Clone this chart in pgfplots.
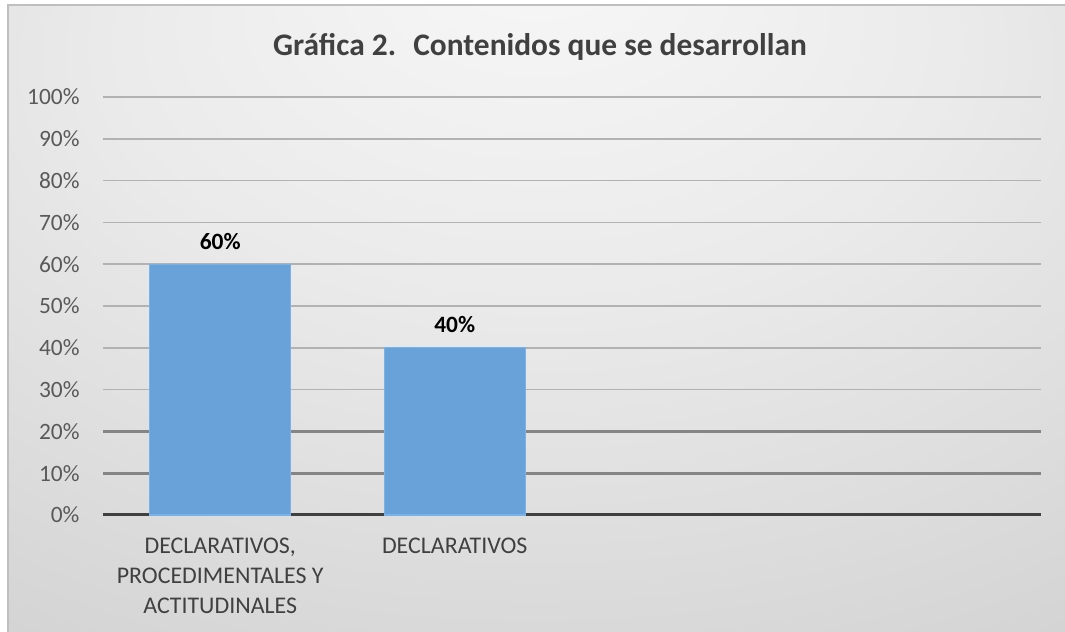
\documentclass[border=0pt]{standalone}
\usepackage{pgfplots}
\pgfplotsset{compat=1.18}
\usepackage{fontspec}
\setmainfont{Carlito}
\definecolor{barblue}{RGB}{104,162,216}
\definecolor{baredge}{RGB}{120,178,232}
\definecolor{txtgray}{RGB}{89,89,89}
\definecolor{titlegray}{RGB}{64,64,64}
\pgfdeclareradialshading{bgshade}{\pgfpoint{0bp}{30bp}}{%
  color(0bp)=(white!97!black);
  color(20bp)=(white!92!black);
  color(45bp)=(white!83!black);
  color(75bp)=(white!76!black)}
\pgfplotstableread{
x y
0 60
1 40
}\datatable
\begin{document}
\begin{tikzpicture}[x=1bp,y=1bp]
\useasboundingbox (0,0) rectangle (1065,632);
\fill[white] (0,0) rectangle (1065,632);
\shade[shading=bgshade] (8,0) rectangle (1065,627);
\draw[black!25, line width=1.2bp] (8,-2) -- (8,627) -- (1067,627);
\node[font=\fontsize{31.5}{38}\selectfont\bfseries, text=titlegray, anchor=base] at (540,576) {Gráfica 2.\hspace{0.55em}Contenidos que se desarrollan};
\begin{axis}[
  at={(103bp,117bp)}, anchor=south west,
  width=938bp, height=418bp, scale only axis,
  /pgf/number format/assume math mode=true,
  xmin=-0.5, xmax=3.5, ymin=0, ymax=100,
  ybar, bar width=141bp,
  axis x line*=bottom, axis y line*=left,
  x axis line style={draw=black!75, line width=3bp},
  y axis line style={draw=none},
  tick style={draw=none},
  ytick={0,30,40,...,100},
  extra y ticks={10,20},
  extra y tick style={grid style={draw=black!48, line width=2.8bp}},
  ymajorgrids,
  grid style={draw=black!30, line width=1.6bp},
  yticklabel={\pgfmathprintnumber{\tick}\%},
  yticklabel style={font=\fontsize{23.5}{28}\selectfont, text=txtgray, xshift=-20bp},
  xtick={0,1},
  xticklabels={{DECLARATIVOS,\\PROCEDIMENTALES Y\\ACTITUDINALES},{DECLARATIVOS}},
  xticklabel style={font=\fontsize{24}{30}\selectfont, text=titlegray, align=center, anchor=north, yshift=-15bp},
  nodes near coords={\pgfmathprintnumber{\pgfplotspointmeta}\%},
  nodes near coords style={font=\fontsize{23.5}{28}\selectfont\bfseries, text=black, yshift=11bp},
  clip=false,
]
\addplot[fill=barblue, draw=baredge, line width=1.2bp] table[x=x,y=y] {\datatable};
\end{axis}
\end{tikzpicture}
\end{document}
